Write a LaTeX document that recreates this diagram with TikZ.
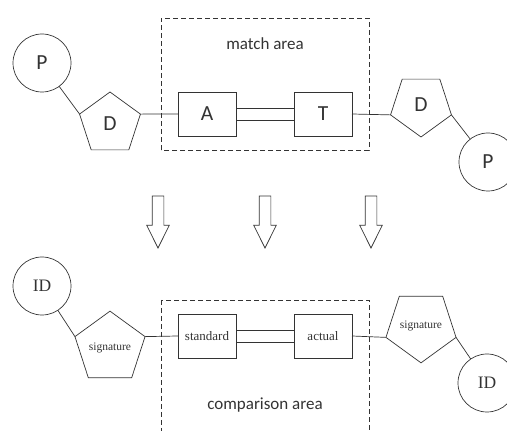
\documentclass[tikz,border=0pt]{standalone}
\usepackage{fontspec}
\setmainfont{Carlito}
\newfontfamily\romana{Liberation Serif}
\usepackage{tikz}
\usetikzlibrary{shapes,shapes.geometric,shapes.arrows,positioning}
\definecolor{grisOscuro}{RGB}{51,51,51}
\tikzstyle{edge}  =[line width=0.7pt, draw=grisOscuro]
\tikzstyle{area}  =[line width=0.7pt, draw=grisOscuro, dash pattern=on 5pt off 3pt]
\tikzstyle{base}  =[circle, draw=grisOscuro, line width=0.7pt, minimum size=58pt,
                    inner sep=0pt, outer sep=0pt, text=grisOscuro]
\tikzstyle{sugar} =[regular polygon, regular polygon sides=5, draw=grisOscuro,
                    line width=0.7pt, minimum size=64pt, inner sep=0pt,
                    outer sep=0pt, text=grisOscuro]
\tikzstyle{sugarinv}=[sugar, shape border rotate=180]
\tikzstyle{slot}  =[rectangle, draw=grisOscuro, line width=0.7pt, minimum width=58pt,
                    minimum height=44pt, inner sep=0pt, outer sep=0pt, text=grisOscuro]
\tikzstyle{flecha}=[single arrow, draw=grisOscuro, line width=0.7pt,
                    shape border rotate=270, minimum height=52pt, minimum width=22pt,
                    single arrow head extend=5.5pt, single arrow tip angle=53,
                    single arrow head indent=0pt, inner sep=5.5pt, outer sep=0pt]
\tikzstyle{letra} =[font=\fontsize{21.5}{24}\selectfont]
\tikzstyle{rotulo}=[font=\fontsize{17}{20}\selectfont, text=grisOscuro]
\tikzstyle{tnr}   =[font=\romana\fontsize{13}{15}\selectfont]
\tikzstyle{tnrs}  =[font=\romana\fontsize{11.5}{13}\selectfont]

\begin{document}
\begin{tikzpicture}[x=1pt,y=1pt]
    \useasboundingbox (0,0) rectangle (507,431);

    % match area
    \draw[area] (161,281) rectangle (369,413);
    \draw (265,387) node (match) [rotulo] {match area};
    \draw (42,368) node (P1) [base, letra] {P};
    \draw (110,307) node (D1) [sugar, letra] {D};
    \draw (207,317) node (A) [slot, letra] {A};
    \draw (323,317) node (T) [slot, letra] {T};
    \draw (421,326) node (D2) [sugarinv, letra] {D};
    \draw (488,269) node (P2) [base, letra] {P};

    \draw [edge] (P1) -- (D1.corner 2);
    \draw [edge] (D1.corner 5) -- (A.west);
    \foreach \s in {-6,6}
        \draw [edge] ([yshift=\s pt]A.east) -- ([yshift=\s pt]T.west);
    \draw [edge] (T.east) -- (D2.corner 5);
    \draw [edge] (D2.corner 2) -- (P2);

    % arrows
    \foreach \x/\n in {158/1,265/2,371/3}
        \node (f\n) [flecha, anchor=tip] at (\x,183) {};

    % comparison area
    \draw[area] (161,131) rectangle (369,-10);
    \draw (265,26) node (comparison) [rotulo] {comparison area};
    \draw (42,145) node (ID1) [base, font=\romana\fontsize{17.5}{20}\selectfont] {ID};
    \draw (110,83) node (S1) [sugar, tnrs] {signature};
    \draw (207,95) node (std) [slot, tnr] {standard};
    \draw (323,95) node (act) [slot, tnr] {actual};
    \draw (421,105) node (S2) [sugarinv, tnrs] {signature};
    \draw (487,48) node (ID2) [base, font=\romana\fontsize{17.5}{20}\selectfont] {ID};

    \draw [edge] (ID1) -- (S1.corner 2);
    \draw [edge] (S1.corner 5) -- (std.west);
    \foreach \s in {-6,6}
        \draw [edge] ([yshift=\s pt]std.east) -- ([yshift=\s pt]act.west);
    \draw [edge] (act.east) -- (S2.corner 5);
    \draw [edge] (S2.corner 2) -- (ID2);
\end{tikzpicture}
\end{document}
